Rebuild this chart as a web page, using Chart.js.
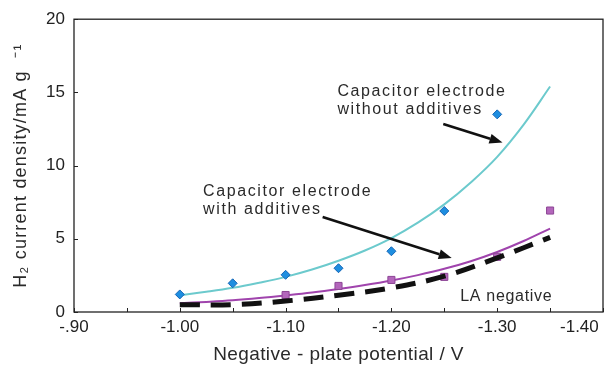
<!DOCTYPE html>
<html>
<head>
<meta charset="utf-8">
<script src="https://cdn.jsdelivr.net/npm/chart.js@4/dist/chart.umd.min.js"></script>
<style>
  html, body { margin: 0; padding: 0; background: #fff; }
  #wrap { width: 616px; height: 367px; }
</style>
</head>
<body>
<div id="wrap"><canvas id="chart" width="616" height="367"></canvas></div>
<script>
'use strict';

// measured points (potential in V, current density in mA/g)
var withoutAddX = [-1.00, -1.05, -1.10, -1.15, -1.20, -1.25, -1.30];
var withoutAddY = [1.2, 1.96, 2.54, 2.99, 4.15, 6.9, 13.5];
var withAddX = [-1.10, -1.15, -1.20, -1.25, -1.30, -1.35];
var withAddY = [1.16, 1.78, 2.19, 2.4, 3.77, 6.93];

// trend curves
var fitX = [-1.00, -1.025, -1.05, -1.075, -1.10, -1.125, -1.15, -1.175,
            -1.20, -1.225, -1.25, -1.275, -1.30, -1.325, -1.35];
var withoutAddCurve = [1.15, 1.38, 1.65, 2.0, 2.4, 2.9, 3.5, 4.2,
                       5.05, 6.1, 7.35, 8.85, 10.6, 12.8, 15.4];
var withAddCurve = [0.6, 0.69, 0.8, 0.95, 1.13, 1.33, 1.57, 1.84,
                    2.15, 2.52, 2.95, 3.47, 4.1, 4.85, 5.7];
var laNegX = [-1.00, -1.05, -1.10, -1.15, -1.20, -1.25, -1.30, -1.35];
var laNegCurve = [0.5, 0.5, 0.75, 1.15, 1.65, 2.45, 3.7, 5.1];

var xTicks = [-0.90, -1.00, -1.10, -1.20, -1.30, -1.40];
var yTicks = [0, 5, 10, 15, 20];

function pairs(xs, ys) {
  var out = [];
  for (var i = 0; i < xs.length; i++) {
    out.push({x: xs[i], y: ys[i]});
  }
  return out;
}

// notes and arrows, placed in data units
var notes = [
  {lines: ['Capacitor electrode', 'without additives'], x: -1.149, y: 15.05, spacing: 1.6},
  {lines: ['Capacitor electrode', 'with additives'], x: -1.022, y: 8.23, spacing: 1.6},
  {lines: ['LA negative'], x: -1.265, y: 1.07, spacing: 0.7}
];
var arrows = [
  {x1: -1.249, y1: 12.84, x2: -1.305, y2: 11.57},
  {x1: -1.135, y1: 6.49, x2: -1.257, y2: 3.68}
];

// the figure's axis titles are tracked out a little
function spacedTitle(scale, spacing) {
  if (scale._spaced) return;
  var orig = scale.drawTitle;
  scale.drawTitle = function() {
    this.ctx.save();
    this.ctx.letterSpacing = spacing;
    orig.apply(this, arguments);
    this.ctx.restore();
  };
  scale._spaced = true;
}

var frameAndNotes = {
  id: 'frameAndNotes',
  afterDatasetsDraw: function(chart) {
    var ctx = chart.ctx;
    var a = chart.chartArea;
    var xs = chart.scales.x;
    var ys = chart.scales.y;
    ctx.save();
    ctx.strokeStyle = '#222';
    ctx.lineWidth = 1.3;
    ctx.strokeRect(a.left, a.top, a.right - a.left, a.bottom - a.top);

    // inward tick marks
    ctx.lineWidth = 1;
    for (var i = 0; i < xs.ticks.length; i++) {
      var px = Math.round(xs.getPixelForTick(i)) + 0.5;
      ctx.beginPath();
      ctx.moveTo(px, a.bottom);
      ctx.lineTo(px, a.bottom - 4);
      ctx.stroke();
    }
    for (var j = 0; j < ys.ticks.length; j++) {
      var py = Math.round(ys.getPixelForTick(j)) + 0.5;
      ctx.beginPath();
      ctx.moveTo(a.left, py);
      ctx.lineTo(a.left + 4, py);
      ctx.stroke();
    }

    // notes
    ctx.fillStyle = '#2a2a2a';
    ctx.font = '16px "Liberation Sans", Arial, sans-serif';
    ctx.textAlign = 'left';
    ctx.textBaseline = 'middle';
    notes.forEach(function(n) {
      ctx.letterSpacing = n.spacing + 'px';
      var x = xs.getPixelForValue(n.x);
      var y = ys.getPixelForValue(n.y);
      n.lines.forEach(function(t, k) {
        ctx.fillText(t, x, y + k * 18);
      });
    });
    ctx.letterSpacing = '0px';

    // arrows
    ctx.strokeStyle = '#111';
    ctx.fillStyle = '#111';
    ctx.lineWidth = 2.6;
    arrows.forEach(function(r) {
      var x1 = xs.getPixelForValue(r.x1), y1 = ys.getPixelForValue(r.y1);
      var x2 = xs.getPixelForValue(r.x2), y2 = ys.getPixelForValue(r.y2);
      var ang = Math.atan2(y2 - y1, x2 - x1);
      var len = 13, half = 5;
      var bx = x2 - len * Math.cos(ang), by = y2 - len * Math.sin(ang);
      ctx.beginPath();
      ctx.moveTo(x1, y1);
      ctx.lineTo(bx, by);
      ctx.stroke();
      ctx.beginPath();
      ctx.moveTo(x2, y2);
      ctx.lineTo(bx + half * Math.sin(ang), by - half * Math.cos(ang));
      ctx.lineTo(bx - half * Math.sin(ang), by + half * Math.cos(ang));
      ctx.closePath();
      ctx.fill();
    });
    ctx.restore();
  }
};

var ctx = document.getElementById('chart').getContext('2d');
var chart = new Chart(ctx, {
  type: 'scatter',
  data: {
    datasets: [
      {
        label: 'Capacitor electrode without additives',
        data: pairs(withoutAddX, withoutAddY),
        pointStyle: 'rectRot',
        pointRadius: 4.5,
        backgroundColor: '#1e8ee0',
        borderColor: '#1565b5',
        borderWidth: 1,
        showLine: false,
        order: 1
      },
      {
        label: 'Capacitor electrode with additives',
        data: pairs(withAddX, withAddY),
        pointStyle: 'rect',
        pointRadius: 5,
        backgroundColor: '#b366bb',
        borderColor: '#8c4595',
        borderWidth: 1,
        showLine: false,
        order: 1
      },
      {
        label: 'without additives fit',
        data: pairs(fitX, withoutAddCurve),
        showLine: true,
        pointRadius: 0,
        borderColor: '#6ccacd',
        borderWidth: 2,
        tension: 0.4,
        order: 3
      },
      {
        label: 'with additives fit',
        data: pairs(fitX, withAddCurve),
        showLine: true,
        pointRadius: 0,
        borderColor: '#a044ad',
        borderWidth: 2,
        tension: 0.4,
        order: 2
      },
      {
        label: 'LA negative',
        data: pairs(laNegX, laNegCurve),
        showLine: true,
        pointRadius: 0,
        borderColor: '#111',
        borderWidth: 5,
        borderDash: [20, 11],
        tension: 0.4,
        order: 0
      }
    ]
  },
  options: {
    responsive: false,
    animation: false,
    layout: { padding: { top: 13, right: 13, left: 0, bottom: 0 } },
    plugins: {
      legend: { display: false },
      tooltip: { enabled: false }
    },
    scales: {
      x: {
        type: 'linear',
        reverse: true,
        min: -1.40,
        max: -0.90,
        border: { display: false },
        grid: { display: false, drawTicks: false },
        afterBuildTicks: function(scale) {
          var t = [];
          for (var v = -1.40; v <= -0.899; v += 0.05) {
            t.push({value: Math.round(v * 100) / 100});
          }
          scale.ticks = t;
        },
        ticks: {
          autoSkip: false,
          maxRotation: 0,
          padding: 5,
          color: '#222',
          font: { family: '"Liberation Sans", Arial, sans-serif', size: 17 },
          callback: function(value) {
            var hund = Math.round(Math.abs(value) * 100);
            if (hund % 10 !== 0) return '';
            var match = xTicks.some(function(t) { return Math.round(Math.abs(t) * 100) === hund; });
            if (!match) return '';
            if (hund === 90) return '-.90';
            if (hund === 140) return '-1.40          ';
            return value.toFixed(2);
          }
        },
        title: {
          display: true,
          text: 'Negative - plate potential / V',
          color: '#2a2a2a',
          font: { family: '"Liberation Sans", Arial, sans-serif', size: 19 },
          padding: { top: 0, bottom: 1 }
        },
        afterFit: function(scale) {
          scale.height = 55;
          scale.paddingLeft = 0;
          scale.paddingRight = 0;
          spacedTitle(scale, '0.4px');
        }
      },
      y: {
        min: 0,
        max: 20,
        border: { display: false },
        grid: { display: false, drawTicks: false },
        afterBuildTicks: function(scale) {
          scale.ticks = yTicks.map(function(v) { return {value: v}; });
        },
        ticks: {
          padding: 9,
          color: '#222',
          font: { family: '"Liberation Sans", Arial, sans-serif', size: 17 }
        },
        title: {
          display: true,
          text: 'H\u2082 current density/mA g  \u207B\u00B9',
          color: '#2a2a2a',
          font: { family: '"Liberation Sans", Arial, sans-serif', size: 18 },
          padding: { top: 10, bottom: 0 }
        },
        afterFit: function(scale) {
          scale.width = 74;
          spacedTitle(scale, '1.2px');
        }
      }
    }
  },
  plugins: [frameAndNotes]
});
</script>
</body>
</html>
